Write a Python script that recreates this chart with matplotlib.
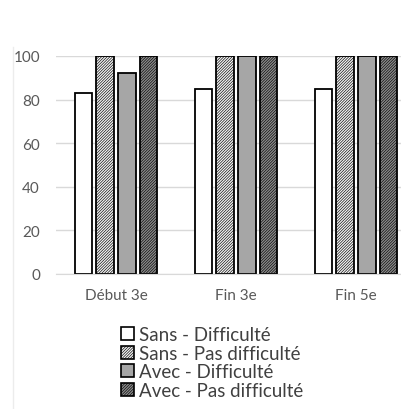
import matplotlib
matplotlib.use('Agg')
import matplotlib.pyplot as plt
from matplotlib.patches import Patch
from matplotlib.lines import Line2D
import numpy as np

categories = ['Début 3e', 'Fin 3e', 'Fin 5e']
series = ['Sans - Difficulté', 'Sans - Pas difficulté', 'Avec - Difficulté', 'Avec - Pas difficulté']
sans_diff = [83, 85, 85]
sans_pas = [100, 100, 100]
avec_diff = [92, 100, 100]
avec_pas = [100, 100, 100]
values = [sans_diff, sans_pas, avec_diff, avec_pas]
yticks = [0, 20, 40, 60, 80, 100]

faces = ['white', '#f2f2f2', '#a6a6a6', '#8c8c8c']
hatches = [None, '////////////', None, '////////////']

plt.rcParams['font.family'] = ['Lato', 'DejaVu Sans']
plt.rcParams['hatch.linewidth'] = 0.45

fig = plt.figure(figsize=(4.01, 4.10), dpi=100)
ax = fig.add_axes([56 / 401, 1 - 275 / 410, 360 / 401, 218 / 410])

x = np.arange(len(categories))
step = 0.18
width = 0.146
for i, vals in enumerate(values):
    ax.bar(x + (i - 1.5) * step, vals, width, color=faces[i], edgecolor='black',
           linewidth=1.3, hatch=hatches[i], zorder=3)

ax.set_xlim(-0.5, 2.5)
ax.set_ylim(0, 100)
ax.set_yticks(yticks)
ax.set_xticks(x)
ax.set_xticklabels(categories)
ax.yaxis.grid(True, color='#d9d9d9', linewidth=1, zorder=0)
ax.tick_params(axis='both', length=0, colors='#595959', labelsize=11)
ax.tick_params(axis='y', pad=11.5)
ax.tick_params(axis='x', pad=10)
for s in ['top', 'right', 'left']:
    ax.spines[s].set_visible(False)
ax.spines['bottom'].set_color('#d9d9d9')
ax.spines['bottom'].set_zorder(4)

# frame line on the left of the chart area
fig.add_artist(Line2D([13 / 401, 13 / 401], [0, 1 - 48 / 410], color='#ececec', linewidth=1))

handles = [Patch(facecolor=faces[i], edgecolor='black', hatch=hatches[i], linewidth=1.2)
           for i in range(4)]
fig.legend(handles, series, loc='upper left', bbox_to_anchor=(112 / 401, 1 - 318 / 410),
           frameon=False, fontsize=13.5, handlelength=0.7, handleheight=0.7,
           handletextpad=0.25, labelspacing=0.08, borderpad=0, labelcolor='#404040')

fig.savefig('out.png', dpi=100)
